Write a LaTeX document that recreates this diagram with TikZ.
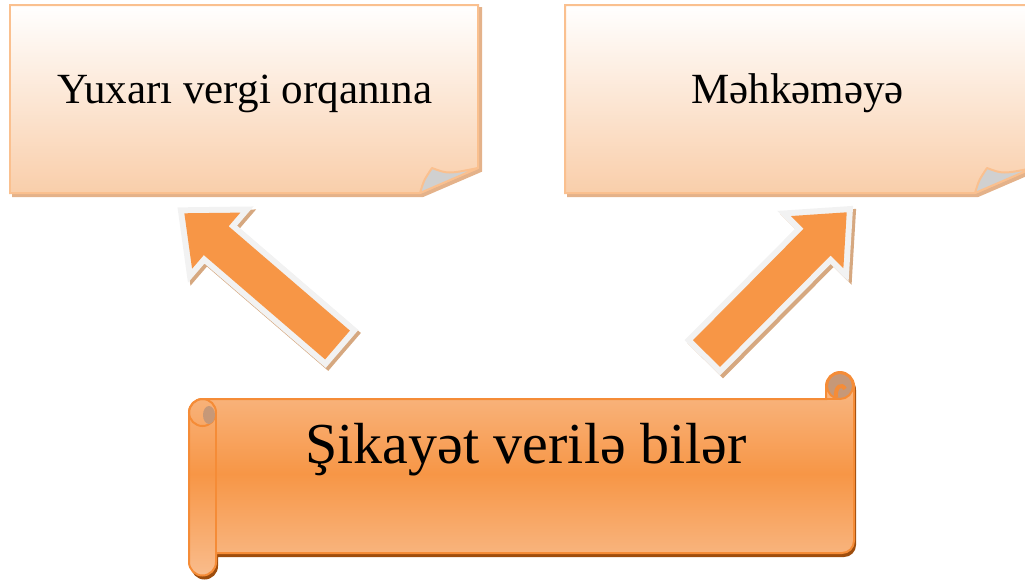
\documentclass[tikz,border=0pt]{standalone}
\usepackage{fontspec}
\setmainfont{Liberation Serif}
\definecolor{boxrim}{RGB}{250,192,143}
\definecolor{boxlow}{RGB}{249,206,170}
\definecolor{boxshade}{RGB}{228,178,138}
\definecolor{foldgray}{RGB}{208,208,208}
\definecolor{arrowfill}{RGB}{247,150,70}
\definecolor{arrowrim}{RGB}{242,242,242}
\definecolor{arrowshade}{RGB}{214,168,128}
\definecolor{scrollmid}{RGB}{247,150,70}
\definecolor{scrolllight}{RGB}{249,188,140}
\definecolor{scrollrim}{RGB}{245,140,55}
\definecolor{scrollshade}{RGB}{158,77,13}
\definecolor{curlbrown}{RGB}{198,152,120}
\tikzset{
  notebox/.style={draw=boxrim, line width=0.04cm, top color=white, bottom color=boxlow},
  noteshadow/.style={fill=boxshade, draw=boxshade, line width=0.04cm},
  fold/.style={fill=foldgray, draw=boxrim, line width=0.04cm, line join=round},
  arrowrimline/.style={draw=arrowrim, line width=0.24cm, line join=miter},
  arrowshadow/.style={fill=arrowshade, draw=arrowshade, line width=0.24cm, line join=miter},
  scrollbody/.style={draw=scrollrim, line width=0.04cm, top color=scrolllight, bottom color=scrolllight, middle color=scrollmid},
  scrollshadow/.style={fill=scrollshade},
  boxtext/.style={font=\fontsize{24.5}{28}\selectfont, anchor=base, inner sep=0pt},
  scrolltext/.style={font=\fontsize{33}{38}\selectfont, anchor=base, inner sep=0pt}
}
\begin{document}
\begin{tikzpicture}[x=0.02cm, y=-0.02cm]
                \useasboundingbox (0,0) rectangle (1025,583);%
                \clip (0,0) rectangle (1025,583);%

                % Drawing note box Yuxari vergi orqanina
                \path[noteshadow] (13,8) -- (481,8) -- (481,171) -- (423,196) -- (13,196) -- cycle;%
                \path[notebox] (10,5) -- (478,5) -- (478,168) -- (420,193) -- (10,193) -- cycle;%
                \path[fold] (420,193) .. controls (424,180) .. (432,168) .. controls (448,174) .. (478,168) -- cycle;%

                % Drawing note box Mehkemeye
                \path[noteshadow] (568,8) -- (1036,8) -- (1036,171) -- (978,196) -- (568,196) -- cycle;%
                \path[notebox] (565,5) -- (1033,5) -- (1033,168) -- (975,193) -- (565,193) -- cycle;%
                \path[fold] (975,193) .. controls (979,180) .. (987,168) .. controls (1003,174) .. (1033,168) -- cycle;%

                % Marking texts of the note boxes
                \node[boxtext] (organ) at (245,103) {Yuxarı vergi orqanına};%
                \node[boxtext] (court) at (797.5,103) {Məhkəməyə};%

                % Drawing arrow to the left box
                \coordinate (ltail) at (337.5,345);%
                \begin{scope}[shift={(340,348)}, rotate=139.3]
                  \path[arrowshadow] (0,-19) -- (160,-19) -- (160,-37) -- (202,0) -- (160,37) -- (160,19) -- (0,19) -- cycle;%
                \end{scope}
                \begin{scope}[shift={(ltail)}, rotate=139.3]
                  \path[arrowrimline] (0,-19) -- (160,-19) -- (160,-37) -- (202,0) -- (160,37) -- (160,19) -- (0,19) -- cycle;%
                  \fill[arrowfill] (0,-19) -- (160,-19) -- (160,-37) -- (202,0) -- (160,37) -- (160,19) -- (0,19) -- cycle;%
                \end{scope}

                % Drawing arrow to the right box
                \coordinate (rtail) at (706.5,353.5);%
                \begin{scope}[shift={(709.5,356.5)}, rotate=45.2]
                  \path[arrowshadow] (0,-19) -- (157,-19) -- (157,-37) -- (199,0) -- (157,37) -- (157,19) -- (0,19) -- cycle;%
                \end{scope}
                \begin{scope}[shift={(rtail)}, rotate=45.2]
                  \path[arrowrimline] (0,-19) -- (157,-19) -- (157,-37) -- (199,0) -- (157,37) -- (157,19) -- (0,19) -- cycle;%
                  \fill[arrowfill] (0,-19) -- (157,-19) -- (157,-37) -- (199,0) -- (157,37) -- (157,19) -- (0,19) -- cycle;%
                \end{scope}

                % Drawing scroll
                \path[scrollshadow] (205,403) -- (828,403) -- (828,390) arc[start angle=180, end angle=360, radius=14] -- (856,545) arc[start angle=0, end angle=90, radius=12] -- (218,557) -- (218,566) arc[start angle=0, end angle=180, radius=13.5] -- (191,416.5) arc[start angle=180, end angle=270, radius=13.5] -- cycle;%
                \path[scrollbody] (203,399) -- (826,399) -- (826,386) arc[start angle=180, end angle=360, radius=14] -- (854,541) arc[start angle=0, end angle=90, radius=12] -- (216,553) -- (216,562) arc[start angle=0, end angle=180, radius=13.5] -- (189,412.5) arc[start angle=180, end angle=270, radius=13.5] -- cycle;%
                \draw[scrollrim, line width=0.04cm] (216,412.5) -- (216,553);%
                \draw[scrollrim, line width=0.04cm] (202.5,412.5) circle[radius=13.5];%
                \fill[curlbrown] (209,415) ellipse[x radius=6, y radius=9];%
                \filldraw[fill=curlbrown, draw=scrollrim, line width=0.04cm] (840,386) circle[radius=13];%
                \draw[scrollrim, line width=0.08cm] (836,397) .. controls (835,386) and (842,383) .. (845,389);%
                \draw[scrollrim, line width=0.04cm] (826,399) -- (840,399);%

                % Marking text of the scroll
                \node[scrolltext] (complaint) at (526,463) {Şikayət verilə bilər};%
\end{tikzpicture}
\end{document}
